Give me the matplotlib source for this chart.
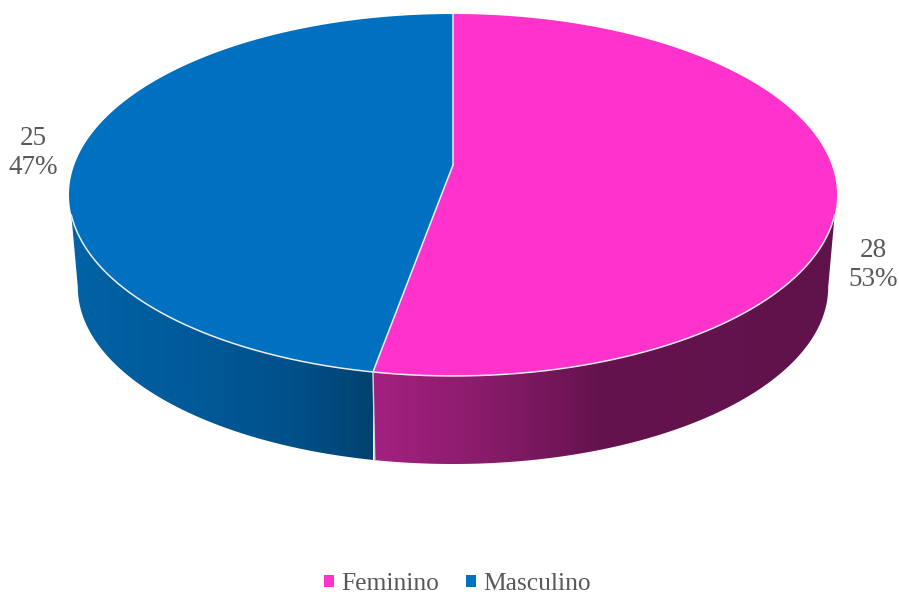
import numpy as np
import matplotlib
matplotlib.use("Agg")
import matplotlib.pyplot as plt
from matplotlib.patches import Polygon, Patch
from matplotlib.colors import LinearSegmentedColormap

categories = ["Feminino", "Masculino"]
values = [28, 25]
colors = ["#FF33CC", "#0070C0"]
side_stops = [
    [(373, "#A3217F"), (480, "#8A1C6C"), (600, "#65134E"), (840, "#60124B")],
    [(68, "#0063A5"), (190, "#005A99"), (300, "#005088"), (373, "#00426F")],
]
text_color = "#595959"
W, H = 899, 592
cx, cy = 453.0, 165.0      # pie centre on the top face
sx, sy, k = 378.7, 176.0, 0.1657
rim_scale, depth = 0.977, 92.9
a_top = np.arcsin(0.271)   # where the upper rim meets the silhouette
a_bot = np.arcsin(k)       # where the lower rim reaches its widest point

plt.rcParams["font.family"] = ["Liberation Serif", "DejaVu Serif"]
fig = plt.figure(figsize=(W / 100, H / 100), dpi=100)
ax = fig.add_axes([0, 0, 1, 1])


def project(theta, scale=1.0, drop=0.0):
    u, v = np.cos(theta), np.sin(theta)
    d = 1 + k * v
    return np.column_stack((cx + scale * sx * u / d, cy + drop - scale * sy * v / d))


total = sum(values)
start = np.pi / 2
bounds = []
for val in values:
    end = start - 2 * np.pi * val / total
    bounds.append((start, end))
    start = end
div = bounds[0][1]

# side walls: first slice runs right silhouette -> divider, second divider -> left silhouette
arcs = [((-a_top, div), (-a_bot, div)),
        ((div, -np.pi + a_top), (div, -np.pi + a_bot))]
for i, (t_arc, b_arc) in enumerate(arcs):
    top = project(np.linspace(*t_arc, 300))
    bot = project(np.linspace(*b_arc, 300), rim_scale, depth)
    poly = Polygon(np.vstack((top, bot[::-1])), closed=True, fc="none", ec="none",
                   transform=ax.transData)
    ax.add_patch(poly)
    xs = [p[0] for p in side_stops[i]]
    x0, x1 = xs[0], xs[-1]
    cmap = LinearSegmentedColormap.from_list(
        "s%d" % i, [((p[0] - x0) / (x1 - x0), p[1]) for p in side_stops[i]])
    im = ax.imshow(np.linspace(0, 1, 512)[None, :], cmap=cmap, aspect="auto",
                   extent=(x0, x1, H, 0), zorder=1, interpolation="bilinear")
    im.set_clip_path(poly)
ax.set_xlim(0, W)
ax.set_ylim(H, 0)
ax.axis("off")

# top faces
for i, (a0, a1) in enumerate(bounds):
    th = np.linspace(a0, a1, 500)
    pts = np.vstack(([[cx, cy]], project(th)))
    ax.add_patch(Polygon(pts, closed=True, fc=colors[i], ec="none", zorder=2))

# white edges
edge = dict(color="#EDEDED", lw=1.1, zorder=3, solid_capstyle="round")
for a in (bounds[0][0], div):
    p = project(np.array([a]))[0]
    ax.plot([cx, p[0]], [cy, p[1]], **edge)
r = project(np.linspace(-a_top, -np.pi + a_top, 600))
ax.plot(r[:, 0], r[:, 1], **edge)
p0 = project(np.array([div]))[0]
p1 = project(np.array([div]), rim_scale, depth)[0]
ax.plot([p0[0], p1[0]], [p0[1], p1[1]], color="#D8D8D8", lw=1.0, zorder=3)

# data labels
label_xy = [(873, 265), (33, 153)]
for val, (x, y) in zip(values, label_xy):
    ax.text(x, y, f"{val}\n{round(val / total * 100)}%", ha="center", va="center",
            fontsize=19.5, color=text_color, linespacing=1.25, zorder=4)

handles = [Patch(fc=c, ec="none") for c in colors]
leg = fig.legend(handles, categories, loc="center", bbox_to_anchor=(457.5 / W, 1 - 584 / H),
                 ncols=2, frameon=False, fontsize=18.4, labelcolor=text_color,
                 handlelength=0.38, handleheight=0.38, handletextpad=0.3, columnspacing=1.06,
                 borderpad=0, borderaxespad=0)
fig.savefig("out.png", dpi=100)
